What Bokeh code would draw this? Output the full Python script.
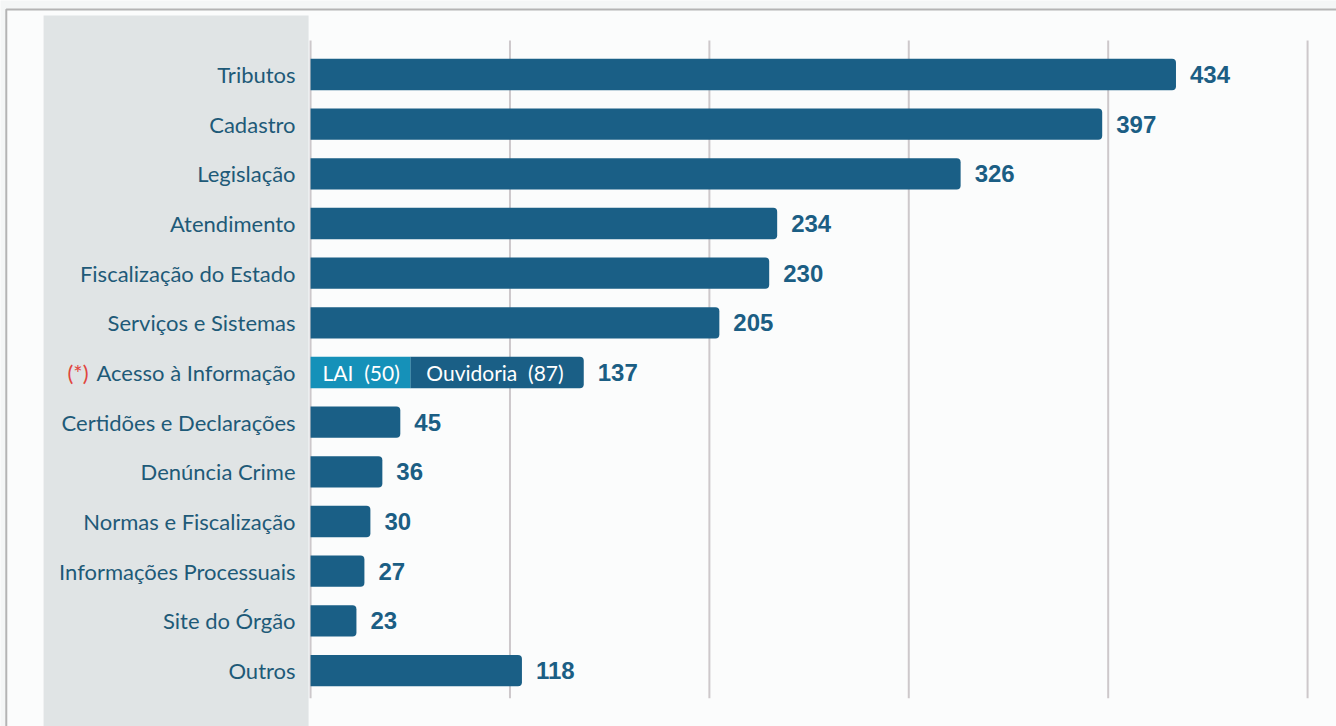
from bokeh.plotting import figure
from bokeh.models import Range1d, ColumnDataSource
from bokeh.core.properties import value
from bokeh.embed import file_html
from bokeh.resources import INLINE

categories = ["Tributos", "Cadastro", "Legislação", "Atendimento", "Fiscalização do Estado",
              "Serviços e Sistemas", "Acesso à Informação", "Certidões e Declarações",
              "Denúncia Crime", "Normas e Fiscalização", "Informações Processuais",
              "Site do Órgão", "Outros"]
totals = [434, 397, 326, 234, 230, 205, 137, 45, 36, 30, 27, 23, 118]
# bar lengths as drawn in the picture (the "Outros" bar is drawn shorter than its label)
bar_lengths = [434, 397, 326, 234, 230, 205, 137, 45, 36, 30, 27, 23, 106]
lai_value = 50
ouvidoria_value = 87
grid_ticks = [0, 100, 200, 300, 400, 500]

BAR = "#1a5f86"
LAI = "#1591b9"
TXT = "#1e5a78"
VAL = "#1b5e84"
NB = "\u00a0"

rows = list(range(len(categories)))

p = figure(width=1336, height=726, output_backend="svg", toolbar_location=None,
           x_range=Range1d(-155.5, 514.5), y_range=Range1d(13.127, -1.49),
           min_border=0, outline_line_color=None,
           x_axis_location=None, y_axis_location=None,
           background_fill_color="#f4f6f6", border_fill_color="#f4f6f6")
p.grid.visible = False

# page frame
p.quad(left=-152.6, right=600, top=-1.31, bottom=20, fill_color="#fbfcfc",
       line_color="#b4b4b4", line_width=2)
# label panel
p.quad(left=-133.9, right=-1.0, top=-1.19, bottom=20, fill_color="#e0e4e5", line_color=None)

# vertical grid lines
p.segment(x0=grid_ticks, x1=grid_ticks, y0=[-0.685] * len(grid_ticks), y1=[12.56] * len(grid_ticks),
          line_color="#cdc8cb", line_width=2)

idx_acc = categories.index("Acesso à Informação")
main_rows = [r for r in rows if r != idx_acc]
src = ColumnDataSource(dict(y=main_rows, right=[bar_lengths[r] for r in main_rows]))
p.hbar(y="y", left=0, right="right", height=0.63, source=src, fill_color=BAR,
       line_color=None, border_radius=(0, 4, 4, 0))

# stacked Acesso bar
p.hbar(y=[idx_acc], left=[lai_value], right=[lai_value + ouvidoria_value], height=0.63,
       fill_color=BAR, line_color=None, border_radius=(0, 4, 4, 0))
p.hbar(y=[idx_acc], left=[0], right=[lai_value], height=0.63, fill_color=LAI, line_color=None)
p.text(x=[0], y=[idx_acc], text=[f"LAI{NB}{NB}({lai_value})"], x_offset=12,
       text_align="left", text_baseline="middle", text_color="white",
       text_font=value("Lato"), text_font_size="21px")
p.text(x=[lai_value], y=[idx_acc], text=[f"Ouvidoria{NB}{NB}({ouvidoria_value})"], x_offset=16,
       text_align="left", text_baseline="middle", text_color="white",
       text_font=value("Lato"), text_font_size="21px")

# value labels
p.text(x=bar_lengths, y=rows, text=[str(v) for v in totals], x_offset=14,
       text_align="left", text_baseline="middle", text_color=VAL,
       text_font=value("Liberation Sans"), text_font_style="bold", text_font_size="24px")

# category labels
p.text(x=[0] * len(rows), y=rows, text=categories, x_offset=-15,
       text_align="right", text_baseline="middle", text_color=TXT,
       text_font=value("Lato"), text_font_size="22px")
p.text(x=[0], y=[idx_acc], text=["(*)"], x_offset=-222,
       text_align="right", text_baseline="middle", text_color="#e0463e",
       text_font=value("Lato"), text_font_size="22px")

open("out.html", "w").write(file_html(p, INLINE))
